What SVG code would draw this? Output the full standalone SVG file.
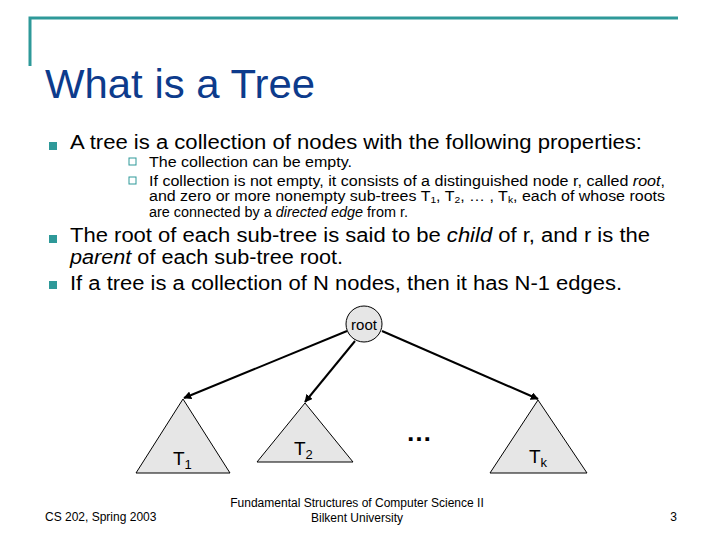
<svg xmlns="http://www.w3.org/2000/svg" width="720" height="540" viewBox="0 0 720 540">
<style>
text{font-family:"Liberation Sans",Arial,sans-serif;fill:#000}
.b{font-size:19.5px}.s{font-size:14px}.f{font-size:12px}
.tri{fill:#e6e6e6;stroke:#000;stroke-width:1}
.e{stroke:#000;stroke-width:2;fill:none;marker-end:url(#a)}
</style>
<defs><marker id="a" viewBox="0 0 10 10" refX="9" refY="5" markerWidth="4" markerHeight="4" orient="auto"><path d="M0,0L10,5L0,10z" fill="#000"/></marker></defs>
<rect width="720" height="540" fill="#fff"/>
<path d="M30,66V18H678" stroke="#2e9999" stroke-width="3" fill="none"/>
<text x="45" y="98" style="font-size:40px;fill:#0d3b8c" textLength="270" lengthAdjust="spacingAndGlyphs">What is a Tree</text>
<rect x="49" y="142" width="8" height="8" fill="#2e9999"/>
<text x="70" y="149" class="b" textLength="572" lengthAdjust="spacingAndGlyphs">A tree is a collection of nodes with the following properties:</text>
<rect x="129" y="158" width="7" height="7" fill="none" stroke="#2e9999"/>
<text x="149" y="167" class="s" textLength="203" lengthAdjust="spacingAndGlyphs">The collection can be empty.</text>
<rect x="129" y="177" width="7" height="7" fill="none" stroke="#2e9999"/>
<text x="149" y="186" class="s" textLength="516" lengthAdjust="spacingAndGlyphs">If collection is not empty, it consists of a distinguished node r, called <tspan font-style="italic">root</tspan>,</text>
<text x="149" y="201" class="s" textLength="516" lengthAdjust="spacingAndGlyphs">and zero or more nonempty sub-trees T<tspan dy="2" font-size="9">1</tspan><tspan dy="-2">, T</tspan><tspan dy="2" font-size="9">2</tspan><tspan dy="-2">, … , T</tspan><tspan dy="2" font-size="9">k</tspan><tspan dy="-2">, each of whose roots</tspan></text>
<text x="149" y="217" class="s" textLength="259" lengthAdjust="spacingAndGlyphs">are connected by a <tspan font-style="italic">directed edge</tspan> from r.</text>
<rect x="49" y="235" width="8" height="8" fill="#2e9999"/>
<text x="70" y="242" class="b" textLength="580" lengthAdjust="spacingAndGlyphs">The root of each sub-tree is said to be <tspan font-style="italic">child</tspan> of r, and r is the</text>
<text x="70" y="264" class="b" textLength="273" lengthAdjust="spacingAndGlyphs"><tspan font-style="italic">parent</tspan> of each sub-tree root.</text>
<rect x="49" y="281" width="8" height="8" fill="#2e9999"/>
<text x="70" y="290" class="b" textLength="552" lengthAdjust="spacingAndGlyphs">If a tree is a collection of N nodes, then it has N-1 edges.</text>
<g id="edges">
<line class="e" x1="347" y1="331" x2="184" y2="398"/>
<line class="e" x1="355" y1="341" x2="305" y2="402"/>
<line class="e" x1="382" y1="331" x2="538" y2="399"/>
</g>
<g id="root"><circle cx="364" cy="324" r="18" fill="#e6e6e6" stroke="#000"/><text x="364" y="330" text-anchor="middle" style="font-size:15px">root</text></g>
<g id="t1"><path class="tri" d="M183,399L230,473H136z"/><text x="173" y="465" style="font-size:19px">T<tspan dy="4" font-size="13">1</tspan></text></g>
<g id="t2"><path class="tri" d="M305,403L353,462H257z"/><text x="294" y="455" style="font-size:19px">T<tspan dy="4" font-size="13">2</tspan></text></g>
<g id="tk"><path class="tri" d="M538,400L587,473H490z"/><text x="529" y="463" style="font-size:19px">T<tspan dy="4" font-size="13">k</tspan></text></g>
<text x="419" y="441" text-anchor="middle" style="font-size:26px;font-weight:bold">…</text>
<text x="45" y="521" class="f">CS 202, Spring 2003</text>
<text x="357" y="507" class="f" text-anchor="middle">Fundamental Structures of Computer Science II</text>
<text x="357" y="522" class="f" text-anchor="middle">Bilkent University</text>
<text x="677" y="521" class="f" text-anchor="end">3</text>
</svg>
